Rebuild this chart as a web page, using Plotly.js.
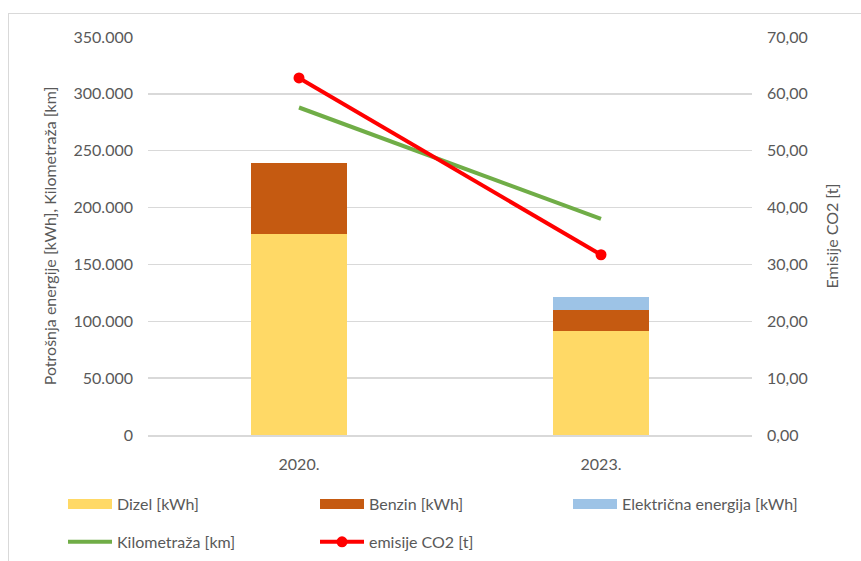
<!DOCTYPE html>
<html><head><meta charset="utf-8">
<script src="https://cdn.plot.ly/plotly-3.0.1.min.js"></script>
<style>
html,body{margin:0;padding:0;background:#fff;}
#frame{position:absolute;left:8px;top:13px;width:900px;height:600px;border-left:1.5px solid #d9d9d9;border-top:1.5px solid #d9d9d9;}
#chart{position:absolute;left:0;top:0;width:861px;height:561px;}
</style></head>
<body>
<div id="frame"></div>
<div id="chart"></div>
<script>
const years = ['2020.', '2023.'];
const seriesNames = ['Dizel [kWh]', 'Benzin [kWh]', 'Električna energija [kWh]', 'Kilometraža [km]', 'emisije CO2 [t]'];
const dizel = [176500, 91500];
const benzin = [63000, 18500];
const elektricna = [0, 11500];
const kilometraza = [288000, 190000];
const emisije = [62.8, 31.7];
const colors = ['#FFD966', '#C55A11', '#9DC3E6', '#70AD47', '#FF0000'];

const fam = 'Lato, "Open Sans", sans-serif';
const font = {family: fam, size: 16, color: '#595959'};

// legend-only proxies give wide rectangular swatches like the original
function proxy(i, legend) {
  return {type:'scatter', mode:'lines', name:seriesNames[i], x:[null], y:[null], legend:legend,
          line:{color:colors[i], width:11}, hoverinfo:'skip'};
}

const traces = [
  {type:'bar', name:seriesNames[0], x:years, y:dizel, marker:{color:colors[0]}, showlegend:false},
  {type:'bar', name:seriesNames[1], x:years, y:benzin, marker:{color:colors[1]}, showlegend:false},
  {type:'bar', name:seriesNames[2], x:years, y:elektricna, marker:{color:colors[2]}, showlegend:false},
  {type:'scatter', mode:'lines', name:seriesNames[3], x:years, y:kilometraza, legend:'legend3',
    line:{color:colors[3], width:4}},
  {type:'scatter', mode:'lines+markers', name:seriesNames[4], x:years, y:emisije, yaxis:'y2', legend:'legend3',
    line:{color:colors[4], width:4}, marker:{color:colors[4], size:11}},
  proxy(0, 'legend'), proxy(1, 'legend'), proxy(2, 'legend2')
];

const legBase = {orientation:'h', xanchor:'left', yanchor:'top', font:font, itemwidth:44,
  entrywidth:193, entrywidthmode:'pixels', traceorder:'normal', bgcolor:'rgba(0,0,0,0)'};

const layout = {
  width:861, height:561,
  paper_bgcolor:'rgba(0,0,0,0)', plot_bgcolor:'rgba(0,0,0,0)',
  separators:',.',
  font:font,
  barmode:'stack', bargap:0.68,
  margin:{l:148, r:109, t:37, b:126, autoexpand:false},
  showlegend:true,
  legend:Object.assign({}, legBase, {x:(63-148)/604, y:-0.131}),
  legend2:Object.assign({}, legBase, {x:(568-148)/604, y:-0.131}),
  legend3:Object.assign({}, legBase, {x:(63-148)/604, y:-0.226}),
  xaxis:{type:'category', showgrid:false, showline:true, linecolor:'#d9d9d9', linewidth:1.5, ticks:'',
    tickfont:font, zeroline:false, ticklabelstandoff:14},
  yaxis:{range:[0,350000], dtick:50000, tickformat:',.0f', showgrid:true, gridcolor:'#d9d9d9', gridwidth:1.5,
    zeroline:false, showline:false, ticks:'', tickfont:font, ticklabelstandoff:14,
    title:{text:'Potrošnja energije [kWh], Kilometraža [km]', font:{family:fam, size:16, color:'#595959'}, standoff:12}},
  yaxis2:{overlaying:'y', side:'right', range:[0,70], dtick:10, tickformat:'.2f', showgrid:false, zeroline:false,
    showline:false, tickfont:font, ticklabelstandoff:14,
    title:{text:'Emisije CO2 [t]', font:{family:fam, size:16, color:'#595959'}, standoff:20}}
};

Plotly.newPlot('chart', traces, layout, {displayModeBar:false, staticPlot:true});
</script>
</body></html>
